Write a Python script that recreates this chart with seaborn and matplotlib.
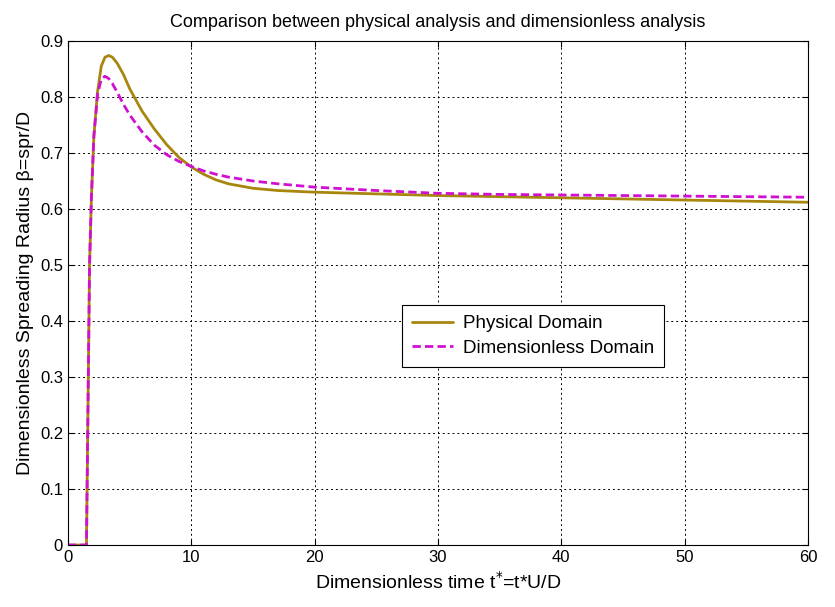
import matplotlib
matplotlib.use("Agg")
import matplotlib.pyplot as plt
import seaborn as sns
import pandas as pd

t = [0, 1.5, 1.55, 1.65, 1.75, 1.9, 2.1, 2.4, 2.7, 3.0, 3.3, 3.6, 4.0, 4.5, 5, 6, 7, 8, 9, 10,
     11, 12, 13, 15, 17, 20, 25, 30, 35, 40, 45, 50, 55, 60]
physical = [0, 0, 0.1, 0.3, 0.5, 0.62, 0.73, 0.81, 0.855, 0.871, 0.874, 0.871, 0.86, 0.84, 0.815,
            0.775, 0.743, 0.715, 0.692, 0.675, 0.662, 0.652, 0.645, 0.637, 0.633, 0.63,
            0.627, 0.624, 0.622, 0.62, 0.618, 0.616, 0.614, 0.612]
dimensionless = [0, 0, 0.1, 0.3, 0.5, 0.62, 0.73, 0.805, 0.832, 0.837, 0.833, 0.824, 0.808, 0.787, 0.768,
                 0.738, 0.714, 0.697, 0.685, 0.676, 0.668, 0.662, 0.657, 0.65, 0.645, 0.639,
                 0.633, 0.628, 0.626, 0.625, 0.624, 0.623, 0.622, 0.621]
labels = ["Physical Domain", "Dimensionless Domain"]
xticks = [0, 10, 20, 30, 40, 50, 60]
yticks = [0, 0.1, 0.2, 0.3, 0.4, 0.5, 0.6, 0.7, 0.8, 0.9]
ytick_labels = ["0", "0.1", "0.2", "0.3", "0.4", "0.5", "0.6", "0.7", "0.8", "0.9"]

sns.set_style("ticks")
plt.rcParams['font.family'] = ['Liberation Sans', 'DejaVu Sans']
plt.rcParams.update({"text.color": "black", "axes.labelcolor": "black",
                     "xtick.color": "black", "ytick.color": "black",
                     "axes.edgecolor": "black"})

df = pd.DataFrame({"t": t * 2,
                   "beta": physical + dimensionless,
                   "series": [labels[0]] * len(t) + [labels[1]] * len(t)})

fig = plt.figure(figsize=(8.35, 6.07), dpi=100)
ax = fig.add_axes([0.0814, 0.1021, 0.8863, 0.8304])
sns.lineplot(data=df, x="t", y="beta", hue="series", style="series",
             palette={labels[0]: "#A8860E", labels[1]: "#D010D0"},
             dashes={labels[0]: "", labels[1]: (3, 1.5)},
             linewidth=2, ax=ax, sort=False)

ax.set_xlim(0, 60)
ax.set_ylim(0, 0.9)
ax.set_xticks(xticks)
ax.set_yticks(yticks)
ax.set_yticklabels(ytick_labels)
ax.tick_params(direction="in", labelsize=12, top=True, right=True, length=4)
ax.grid(True, color="black", linestyle=(0, (2, 3)), linewidth=0.7)
for s in ax.spines.values():
    s.set_visible(True)
    s.set_linewidth(0.8)
ax.set_xlabel("Dimensionless time t$^{*}$=t*U/D", fontsize=14)
ax.set_ylabel("Dimensionless Spreading Radius β=spr/D", fontsize=14)
ax.set_title("Comparison between physical analysis and dimensionless analysis", fontsize=13, pad=10)

leg = ax.legend(loc="lower left", bbox_to_anchor=(0.451, 0.353), borderaxespad=0,
                fontsize=13.5, frameon=True, fancybox=False, edgecolor="black", framealpha=1,
                handlelength=2.2, handletextpad=0.5, borderpad=0.55, labelspacing=0.4)
leg.get_frame().set_linewidth(0.8)

fig.savefig("out.png", dpi=100)
